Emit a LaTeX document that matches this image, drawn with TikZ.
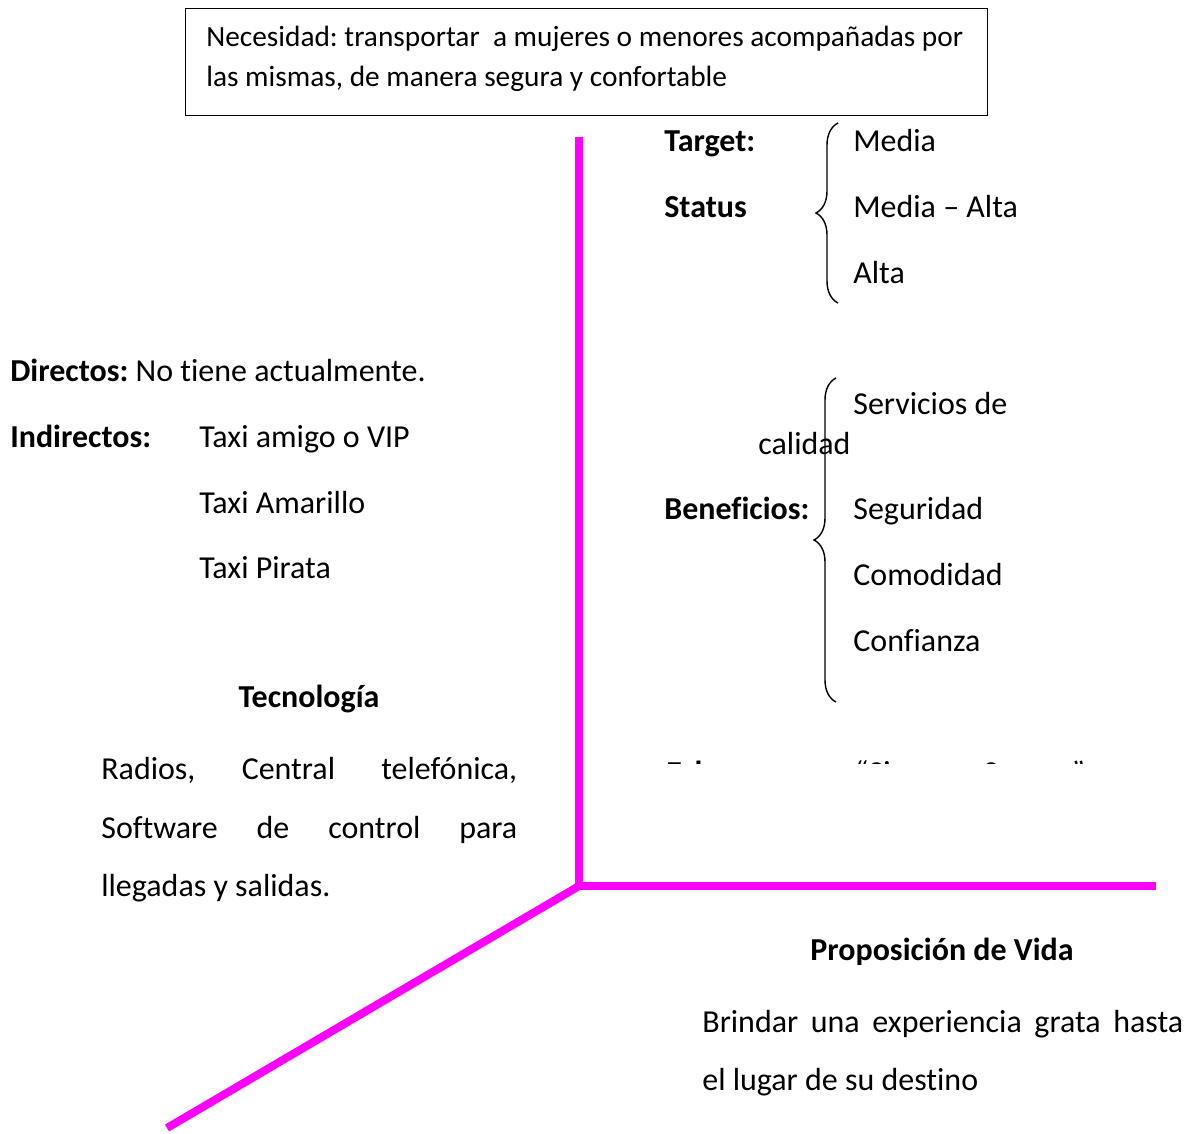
\documentclass[tikz,border=0pt]{standalone}
\usepackage{fontspec}
\setmainfont{Carlito}[Ligatures=NoCommon]
\usetikzlibrary{decorations.pathreplacing}
\definecolor{axismagenta}{RGB}{255,0,255}
\newcommand{\bodyfont}{\fontsize{18.2}{22}\selectfont}
\newcommand{\boxfont}{\fontsize{16.7}{20}\selectfont}
\tikzset{
  txt/.style={anchor=base west, inner sep=0pt, font=\bodyfont},
  lbl/.style={txt, font=\bodyfont\bfseries},
  axis/.style={line width=0.16cm, color=axismagenta},
  bracket/.style={line width=0.8pt, decorate, decoration={brace, amplitude=0.44cm}}
}
\frenchspacing
\begin{document}
\begin{tikzpicture}[x=0.02cm, y=-0.02cm]
   \useasboundingbox (0,0) rectangle (1187,1133);

   \node[draw, line width=0.75pt, anchor=north west, minimum width=16.04cm, minimum height=2.14cm, inner sep=0pt] (need) at (185,8) {};
   \node[txt, font=\boxfont] (need1) at (206,46) {Necesidad: transportar \ a mujeres o menores acompañadas por};
   \node[txt, font=\boxfont] (need2) at (206,86) {las mismas, de manera segura y confortable};

   \coordinate (origin) at (579,886);
   \coordinate (top) at (579,137);
   \coordinate (right) at (1156,886);
   \coordinate (low) at (167,1128);
   \draw[axis] (origin) -- (top);
   \draw[axis] (origin) -- (right);
   \draw[axis] (origin) -- (low);

   \node[lbl] (target) at (664,151) {Target:};
   \node[lbl] (status) at (664,217) {Status};
   \draw[bracket] (838,303) -- (838,123);
   \node[txt] (media) at (853,151) {Media};
   \node[txt] (mediaalta) at (853,217) {Media -- Alta};
   \node[txt] (alta) at (853,283) {Alta};

   \node[txt] (directos) at (10,381) {\textbf{Directos:} No tiene actualmente.};
   \node[lbl] (indirectos) at (10,447) {Indirectos:};
   \node[txt] (vip) at (199,447) {Taxi amigo o VIP};
   \node[txt] (amarillo) at (199,513) {Taxi Amarillo};
   \node[txt] (pirata) at (199,578) {Taxi Pirata};

   \draw[bracket] (836,702) -- (836,378);
   \node[txt] (servicios) at (853,414) {Servicios de};
   \node[txt] (calidad) at (758,454) {calidad};
   \node[lbl] (beneficios) at (664,519) {Beneficios:};
   \node[txt] (seguridad) at (853,519) {Seguridad};
   \node[txt] (comodidad) at (853,585) {Comodidad};
   \node[txt] (confianza) at (853,651) {Confianza};

   \begin{scope}
   \clip (600,760.5) rectangle (1187,763.5);
   \node[lbl] (eslogan) at (666,783) {Eslogan:};
   \node[txt] (siempre) at (855,783) {“Siempre};
   \node[txt] (segura) at (983,783) {Segura”};
   \end{scope}

   \node[lbl, anchor=base] (tecnologia) at (309,707) {Tecnología};
   \node[txt] (tec1) at (101,779) {\makebox[8.32cm][s]{Radios, Central telefónica,}};
   \node[txt] (tec2) at (101,838) {\makebox[8.32cm][s]{Software de control para}};
   \node[txt] (tec3) at (101,896) {llegadas y salidas.};

   \node[lbl, anchor=base] (proposicion) at (942,960) {Proposición de Vida};
   \node[txt] (vida1) at (702,1032) {\makebox[9.62cm][s]{Brindar una experiencia grata hasta}};
   \node[txt] (vida2) at (702,1090) {el lugar de su destino};
\end{tikzpicture}
\end{document}
